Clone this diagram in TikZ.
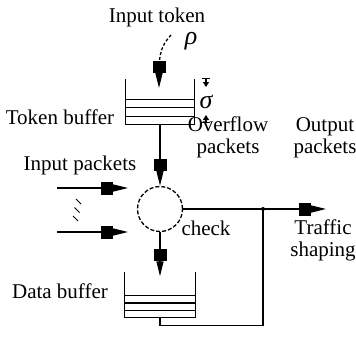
\documentclass[tikz,border=0pt]{standalone}
\usepackage{fontspec}
\setmainfont{Liberation Serif}
\newfontfamily\timesfont{Liberation Serif}
\usetikzlibrary{arrows.meta,positioning}

\tikzset{
  bigtip/.style={-{Rectangle[length=12pt,width=13pt,sep=0pt]Triangle[length=15pt,width=7pt,sep=0pt]}},
  lbl/.style={anchor=base,inner sep=0pt,align=center,font=\timesfont\fontsize{21}{22}\selectfont},
  greek/.style={anchor=base,inner sep=0pt,text height=12pt,text depth=4pt,font=\timesfont\fontsize{26}{26}\selectfont\itshape},
  buffer/.style={minimum width=68pt,minimum height=44pt,inner sep=0pt}
}

\begin{document}
\begin{tikzpicture}[x=1pt,y=-1pt,line width=1.3pt]
			\useasboundingbox (0,0) rectangle (356,341);

			\begin{scope}[every node/.style={buffer}]
				\node (tb) at (160,102) {};
				\node[minimum width=70pt] (db) at (160,295) {};
			\end{scope}
			\node[circle,draw,dash pattern=on 4pt off 2pt,minimum size=45pt,inner sep=0pt] (chk) at (160,209) {};
			\coordinate (jn) at (263,209);
			\coordinate (out) at (326,209);
			\coordinate (tks) at (171,35);
			\coordinate (tke) at (159,88);
			\coordinate (in1s) at (57,188);
			\coordinate (in1e) at (128,188);
			\coordinate (in2s) at (57,232);
			\coordinate (in2e) at (128,232);

			% buffers
			\draw (tb.north west) -- (tb.south west) -- (tb.south east) -- (tb.north east);
			\foreach \dy in {8,17,25}
				\draw ([yshift=\dy pt]tb.south west) -- ([yshift=\dy pt]tb.south east);
			\draw (db.north west) -- (db.south west) -- (db.south east) -- (db.north east);
			\foreach \dy in {7.3,14.6,22}
				\draw ([yshift=\dy pt]db.south west) -- ([yshift=\dy pt]db.south east);

			% bucket depth
			\draw[{Bar[width=8pt]}-{Triangle[length=5pt,width=6pt]}] (206,78) -- (206,87);
			\draw[{Bar[width=8pt]}-{Triangle[length=5pt,width=6pt]}] (206,123) -- (206,115);
			\node[greek] (sig) at (206,108) {σ};

			\begin{scope}[every node/.style={lbl}]
				\node (intok) at (157,22) {Input token};
				\node (tblbl) at (60,124) {Token buffer};
				\node (ovf) at (228,153) {Overflow\\packets};
				\node (outp) at (325,153) {Output\\packets};
				\node (inpk) at (80,170) {Input packets};
				\node (chklbl) at (206,235) {check};
				\node (shp) at (323,256) {Traffic\\shaping};
				\node (dblbl) at (60,298) {Data buffer};
			\end{scope}
			\node[greek] (rho) at (191,44) {ρ};

			\begin{scope}[bigtip]
				\draw[dash pattern=on 3pt off 2pt] (tks) .. controls (162,45) and (159,52) .. (tke);
				\draw (tb.south) -- (chk.north);
				\draw (chk.south) -- ([yshift=-4pt]db.north);
				\draw (in1s) -- (in1e);
				\draw (in2s) -- (in2e);
				\draw (chk.east) -- (out);
			\end{scope}

			\foreach \k in {0,1,2}
				\draw[line width=1pt] ([shift={(-1.5*\k,8.5*\k)}]76,199) -- ++(5,5);
			\fill (jn) circle (2pt);
			\draw (db.south) -- ++(0,8) -| (jn);
		\end{tikzpicture}
\end{document}
